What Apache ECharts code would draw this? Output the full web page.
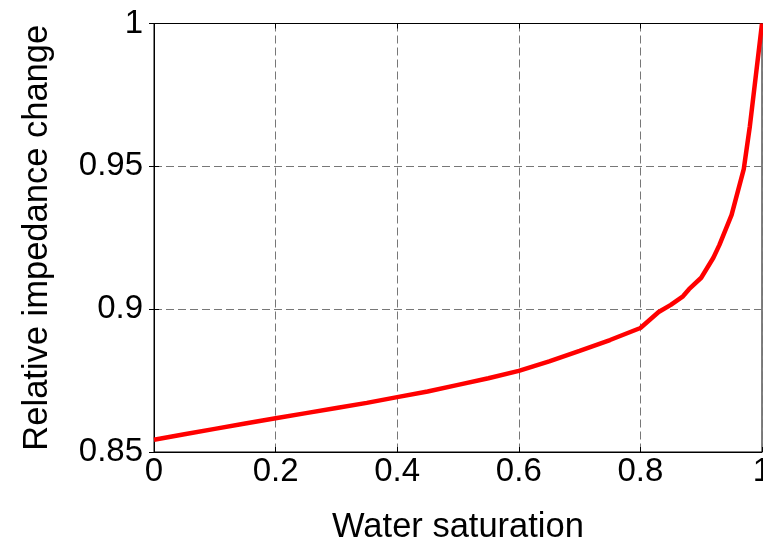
<!DOCTYPE html>
<html>
<head>
<meta charset="utf-8">
<script src="https://cdn.jsdelivr.net/npm/echarts@6/dist/echarts.min.js"></script>
<style>html,body{margin:0;padding:0;background:#fff;}#c{width:763px;height:541px;}</style>
</head>
<body>
<div id="c"></div>
<script>
const saturation = [0, 0.05, 0.1, 0.15, 0.2, 0.25, 0.3, 0.35, 0.4, 0.45, 0.5, 0.55, 0.6, 0.65, 0.7, 0.75, 0.8, 0.83, 0.85, 0.87, 0.88, 0.9, 0.92, 0.93, 0.95, 0.97, 0.98, 0.99, 1.0];
const impedance = [0.8543, 0.8562, 0.8581, 0.8600, 0.8618, 0.8636, 0.8654, 0.8672, 0.8692, 0.8712, 0.8735, 0.8758, 0.8784, 0.8817, 0.8854, 0.8892, 0.8934, 0.8990, 0.9015, 0.9045, 0.9070, 0.9110, 0.9180, 0.9225, 0.9330, 0.9490, 0.9640, 0.9820, 1.0];
const xTickLabels = ['0', '0.2', '0.4', '0.6', '0.8', '1'];
const yTickLabels = ['0.85', '0.9', '0.95', '1'];
const xName = 'Water saturation';
const yName = 'Relative impedance change';

const font = 'Liberation Sans, Arial, sans-serif';
const data = saturation.map((x, i) => [x, impedance[i]]);
function fmtX(v){ const i = Math.round(v / 0.2); return xTickLabels[i] !== undefined ? xTickLabels[i] : ''; }
function fmtY(v){ const i = Math.round((v - 0.85) / 0.05); return yTickLabels[i] !== undefined ? yTickLabels[i] : ''; }

const chart = echarts.init(document.getElementById('c'), null, {renderer: 'canvas'});
chart.setOption({
  animation: false,
  backgroundColor: '#fff',
  grid: {left: 154, right: 1, top: 23.5, bottom: 89, containLabel: false, outerBoundsMode: 'none', show: true, borderColor: '#000', borderWidth: 1, backgroundColor: 'transparent'},
  xAxis: [{
    type: 'value', min: 0, max: 1, interval: 0.2, position: 'bottom',
    name: xName, nameLocation: 'middle', nameGap: 58,
    nameTextStyle: {fontFamily: font, fontSize: 34.5, color: '#000'},
    axisLine: {show: true, lineStyle: {color: '#000', width: 1}},
    axisTick: {show: true, inside: true, length: 5, lineStyle: {color: '#000'}},
    axisLabel: {fontFamily: font, fontSize: 33, color: '#000', margin: 3, formatter: fmtX, showMaxLabel: true, showMinLabel: true},
    splitLine: {show: true, lineStyle: {color: '#777', width: 1, type: [8, 4]}}
  }, {
    type: 'value', min: 0, max: 1, interval: 0.2, position: 'top',
    axisLine: {show: true, lineStyle: {color: '#000'}},
    axisTick: {show: true, inside: true, length: 5, lineStyle: {color: '#000'}},
    axisLabel: {show: false}, splitLine: {show: false}
  }],
  yAxis: [{
    type: 'value', min: 0.85, max: 1, interval: 0.05, position: 'left',
    name: yName, nameLocation: 'middle', nameGap: 99,
    nameTextStyle: {fontFamily: font, fontSize: 34.5, color: '#000'},
    axisLine: {show: true, lineStyle: {color: '#000', width: 1}},
    axisTick: {show: true, inside: true, length: 5, lineStyle: {color: '#000'}},
    axisLabel: {fontFamily: font, fontSize: 33, color: '#000', margin: 11, formatter: fmtY},
    splitLine: {show: true, lineStyle: {color: '#777', width: 1, type: [8, 4]}}
  }, {
    type: 'value', min: 0.85, max: 1, interval: 0.05, position: 'right',
    axisLine: {show: true, lineStyle: {color: '#000'}},
    axisTick: {show: true, inside: true, length: 5, lineStyle: {color: '#000'}},
    axisLabel: {show: false}, splitLine: {show: false}
  }],
  series: [{
    type: 'line', data: data, xAxisIndex: 0, yAxisIndex: 0,
    showSymbol: false, symbol: 'none', smooth: false, clip: false,
    lineStyle: {color: '#ff0000', width: 4.5}
  }]
});
</script>
</body>
</html>
